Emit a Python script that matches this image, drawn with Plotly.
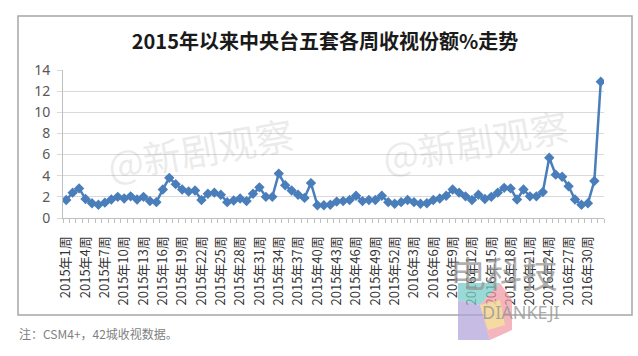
import plotly.graph_objects as go

# ---- data ----
share_2015 = [1.7, 2.4, 2.8, 1.8, 1.4, 1.25, 1.45, 1.75, 2.0, 1.85,
              2.05, 1.75, 2.0, 1.6, 1.5, 2.7, 3.8, 3.2, 2.7, 2.5,
              2.6, 1.7, 2.3, 2.4, 2.2, 1.5, 1.65, 1.85, 1.6, 2.3,
              2.9, 2.0, 2.0, 4.2, 3.1, 2.6, 2.2, 1.9, 3.3, 1.2,
              1.2, 1.25, 1.55, 1.6, 1.7, 2.1, 1.6, 1.7, 1.7, 2.1,
              1.5, 1.35]
share_2016 = [1.5, 1.7, 1.5, 1.35, 1.4, 1.7, 1.85, 2.1, 2.7, 2.4,
              2.05, 1.7, 2.2, 1.8, 2.0, 2.4, 2.85, 2.8, 1.75, 2.7,
              2.05, 2.05, 2.45, 5.7, 4.1, 3.9, 3.0, 1.75, 1.25, 1.4,
              3.5, 12.9]
weeks_2015 = list(range(1, 53))
weeks_2016 = list(range(1, 33))
categories = [f"2015年{w}周" for w in weeks_2015] + [f"2016年{w}周" for w in weeks_2016]
values = share_2015 + share_2016
y_ticks = [0, 2, 4, 6, 8, 10, 12, 14]

title_text = "2015年以来中央台五套各周收视份额%走势"
note_text = "注：CSM4+，42城收视数据。"

# ---- layout geometry ----
W, H = 638, 356
L, R, T, B = 63, 34, 70, 138
pw, ph = W - L - R, H - T - B


def px(x):
    return (x - L) / pw


def py(y):
    return (H - B - y) / ph


x_idx = list(range(len(categories)))
tick_idx = x_idx[::3]
tick_text = [categories[i] for i in tick_idx]
bounds = [i - 0.5 for i in range(len(categories) + 1)]

blue = "#4A7EBB"
cjk = "Noto Sans CJK SC"

fig = go.Figure()
fig.add_trace(go.Scatter(
    x=x_idx, y=values, mode="lines+markers",
    line=dict(color=blue, width=2.5),
    marker=dict(symbol="diamond", size=8, color=blue),
    text=categories, hovertemplate="%{text}: %{y}<extra></extra>",
    showlegend=False,
))
# invisible trace carrying the tick-mark axis
fig.add_trace(go.Scatter(
    x=x_idx, y=values, xaxis="x2", mode="lines",
    line=dict(width=0), opacity=0, hoverinfo="skip", showlegend=False,
))

# watermarks
for wx, wy in [(200, 148), (475, 140)]:
    fig.add_annotation(text="@新剧观察", x=px(wx), y=py(wy), xref="paper", yref="paper",
                       xanchor="center", yanchor="middle",
                       showarrow=False, textangle=-10,
                       font=dict(family=cjk, size=38, color="rgba(175,175,175,0.25)"))

# logo approximation (bottom right)
fig.add_shape(type="path", xref="paper", yref="paper",
              path=f"M {px(458)} {py(283)} L {px(500)} {py(283)} L {px(480)} {py(305)} L {px(458)} {py(300)} Z",
              fillcolor="rgba(120,205,200,0.75)", line=dict(width=0))
fig.add_shape(type="path", xref="paper", yref="paper",
              path=f"M {px(458)} {py(300)} L {px(480)} {py(305)} L {px(490)} {py(340)} L {px(458)} {py(340)} Z",
              fillcolor="rgba(175,160,215,0.7)", line=dict(width=0))
fig.add_shape(type="path", xref="paper", yref="paper",
              path=f"M {px(500)} {py(283)} L {px(512)} {py(300)} L {px(512)} {py(330)} L {px(490)} {py(340)} L {px(480)} {py(305)} Z",
              fillcolor="rgba(240,150,160,0.7)", line=dict(width=0))
fig.add_shape(type="path", xref="paper", yref="paper",
              path=f"M {px(480)} {py(305)} L {px(500)} {py(300)} L {px(505)} {py(325)} L {px(488)} {py(330)} Z",
              fillcolor="rgba(245,235,150,0.7)", line=dict(width=0))
fig.add_annotation(text="电科技", x=px(560), y=py(300), xref="paper", yref="paper",
                   showarrow=False, font=dict(family=cjk, size=36, color="rgba(150,150,150,0.75)"))
fig.add_annotation(text="DIANKEJI", x=px(562), y=py(326), xref="paper", yref="paper",
                   showarrow=False, font=dict(family="Noto Sans", size=18, color="rgba(150,150,150,0.8)"))

# chart border
fig.add_shape(type="rect", xref="paper", yref="paper",
              x0=px(18), x1=px(632), y0=py(315), y1=py(16),
              line=dict(color="#A6A6A6", width=1.5), fillcolor="rgba(0,0,0,0)", layer="below")

# note
fig.add_annotation(text=note_text, x=px(17), y=py(333), xref="paper", yref="paper",
                   xanchor="left", yanchor="middle", showarrow=False,
                   font=dict(family=cjk, size=12, color="#7F7F7F"))

fig.update_layout(
    width=W, height=H,
    margin=dict(l=L, r=R, t=T, b=B, pad=0, autoexpand=False),
    paper_bgcolor="white", plot_bgcolor="white",
    title=dict(text=f"<b>{title_text}</b>", x=325 / W, y=1 - 42 / H,
               xanchor="center", yanchor="middle", automargin=False,
               font=dict(family=cjk, size=20, color="#1A1A1A")),
    xaxis=dict(range=[-0.5, len(categories) - 0.5], tickmode="array",
               tickvals=tick_idx, ticktext=tick_text, tickangle=-90,
               showline=True, linecolor="#BFBFBF", linewidth=1,
               showgrid=False, zeroline=False, ticks="", automargin=False,
               ticklabelstandoff=12,
               tickfont=dict(family=cjk, size=13, color="#333333")),
    xaxis2=dict(overlaying="x", matches="x", anchor="y", side="bottom",
                tickmode="array", tickvals=bounds, ticks="outside", ticklen=4,
                tickcolor="#BFBFBF", showticklabels=False, showgrid=False,
                showline=False, zeroline=False, automargin=False),
    yaxis=dict(range=[0, 14], tickmode="array", tickvals=y_ticks,
               showgrid=True, gridcolor="#D9D9D9", gridwidth=1,
               showline=True, linecolor="#BFBFBF", linewidth=1,
               ticks="outside", ticklen=5, tickcolor="#D9D9D9",
               ticklabelstandoff=4, zeroline=False, automargin=False,
               tickfont=dict(family="Noto Sans", size=14, color="#595959")),
    hovermode="closest",
)

fig.write_html("out.html", config={"displayModeBar": False},
               post_script="document.body.style.margin='0';document.body.style.overflow='hidden';")
